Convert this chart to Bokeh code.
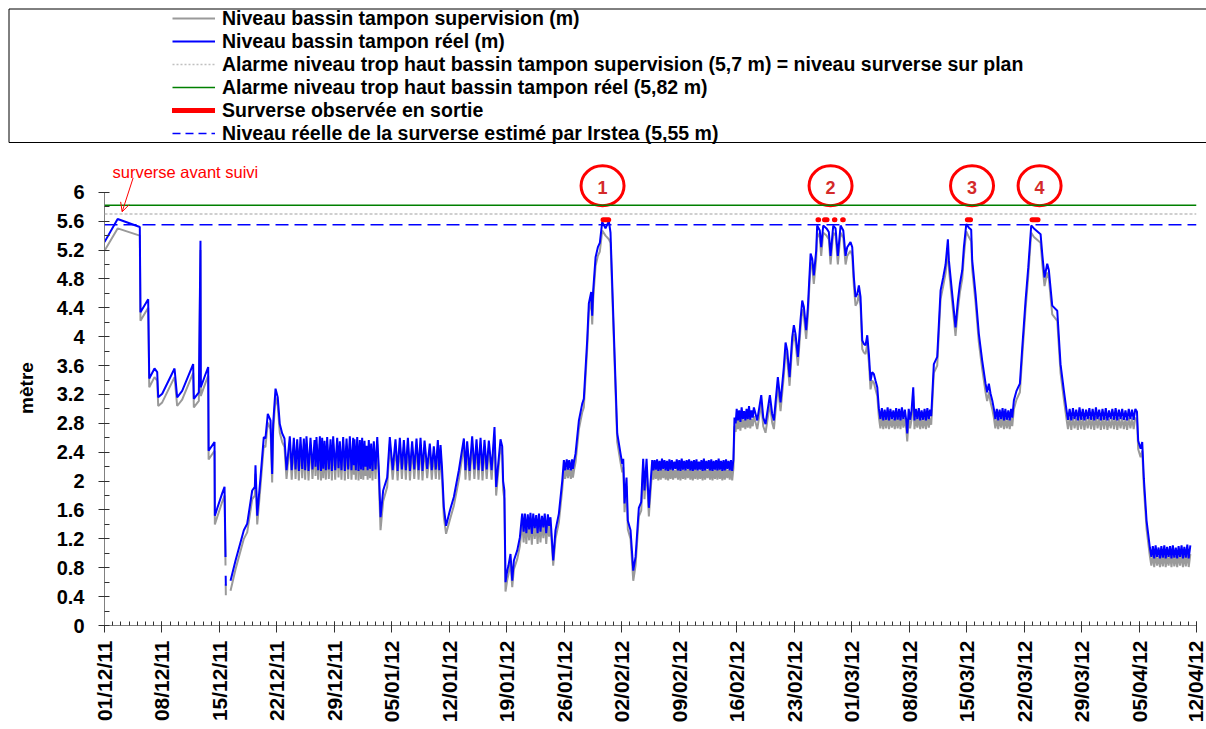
import math
import numpy as np
from bokeh.plotting import figure
from bokeh.layouts import column
from bokeh.models import (Range1d, FixedTicker, Span, Legend, LegendItem, Arrow,
                          OpenHead, Label, ColumnDataSource, BoxAnnotation)
from bokeh.core.properties import value
from bokeh.embed import file_html
from bokeh.resources import INLINE

nan = float("nan")

# ---------------- texts / ticks ----------------
x_labels = ["01/12/11", "08/12/11", "15/12/11", "22/12/11", "29/12/11", "05/01/12",
            "12/01/12", "19/01/12", "26/01/12", "02/02/12", "09/02/12", "16/02/12",
            "23/02/12", "01/03/12", "08/03/12", "15/03/12", "22/03/12", "29/03/12",
            "05/04/12", "12/04/12"]
x_tick_days = [0, 7, 14, 21, 28, 35, 42, 49, 56, 63, 70, 77, 84, 91, 98, 105, 112, 119, 126, 133]
y_ticks = [0, 0.4, 0.8, 1.2, 1.6, 2, 2.4, 2.8, 3.2, 3.6, 4, 4.4, 4.8, 5.2, 5.6, 6]
y_labels = ["0", "0.4", "0.8", "1.2", "1.6", "2", "2.4", "2.8", "3.2", "3.6", "4",
            "4.4", "4.8", "5.2", "5.6", "6"]
legend_labels = [
    "Niveau bassin tampon supervision (m)",
    "Niveau bassin tampon réel (m)",
    "Alarme niveau trop haut bassin tampon supervision (5,7 m) = niveau surverse sur plan",
    "Alarme niveau trop haut bassin tampon réel (5,82 m)",
    "Surverse observée en sortie",
    "Niveau réelle de la surverse estimé par Irstea (5,55 m)",
]
y_axis_title = "mètre"
note_text = "surverse avant suivi"

# ---------------- reference levels (m) ----------------
alarm_supervision = 5.7
alarm_real = 5.82
irstea_level = 5.55

# ---------------- observed overflows (days since 01/12/11) ----------------
surverse_start = [60.72, 86.90, 87.69, 88.90, 89.90, 105.09, 112.97]
surverse_end = [61.41, 86.98, 88.00, 88.96, 89.98, 105.48, 113.70]
surverse_level = 5.62

event_labels = ["1", "2", "3", "4"]
event_days = [60.66, 88.43, 105.66, 113.89]

# ---------------- level series: days since 01/12/11, real level, supervision level -------
# early December
dA = [0.00, 1.60, 4.30, 4.38, 5.32, 5.45, 6.09, 6.42, 6.54, 7.03, 8.53, 8.85, 9.46, 10.80,
      10.88, 11.49, 11.69, 11.73, 12.30, 12.63, 12.68, 13.40, 13.44, 13.72, 14.33, 14.62,
      14.74, 14.75, 14.76, 14.78, 15.30, 15.35, 15.96, 16.97, 17.38, 17.99, 18.31, 18.39,
      18.60, 19.00, 19.40, 19.60, 19.89, 20.22, 20.42, 20.54, 20.83, 21.10, 21.35, 21.64,
      21.92, 22.17]
rA = [5.31, 5.63, 5.52, 4.34, 4.52, 3.42, 3.56, 3.51, 3.16, 3.21, 3.56, 3.16, 3.25, 3.62,
      3.14, 3.23, 5.33, 3.30, 3.48, 3.58, 2.42, 2.54, 1.52, 1.62, 1.83, 1.92, 0.95, nan,
      0.69, 0.55, nan, 0.62, 0.90, 1.32, 1.41, 1.87, 1.92, 2.22, 1.52, 2.05, 2.61, 2.59,
      2.93, 2.84, 2.10, 2.79, 3.28, 3.16, 2.79, 2.66, 2.59, 2.15]
sA = [5.19, 5.50, 5.40, 4.22, 4.40, 3.30, 3.44, 3.39, 3.04, 3.09, 3.44, 3.04, 3.13, 3.50,
      3.02, 3.11, 5.20, 3.18, 3.36, 3.46, 2.30, 2.42, 1.40, 1.50, 1.71, 1.80, 0.83, nan,
      0.57, 0.42, nan, 0.48, 0.78, 1.20, 1.29, 1.75, 1.80, 2.10, 1.40, 1.93, 2.49, 2.47,
      2.81, 2.72, 1.98, 2.67, 3.16, 3.04, 2.67, 2.54, 2.47, 2.03]
# late December plateau
dB = [22.57, 22.80, 23.06, 23.27, 23.47, 23.67, 23.87, 24.08, 24.28, 24.44, 24.60, 24.85,
      25.09, 25.33, 25.58, 25.70, 25.82, 26.02, 26.23, 26.37, 26.51, 26.65, 26.80, 26.96,
      27.12, 27.32, 27.53, 27.69, 27.85, 28.10, 28.34, 28.50, 28.66, 28.86, 29.07, 29.27,
      29.48, 29.68, 29.88, 30.08, 30.29, 30.37, 30.45, 30.61, 30.78, 30.94, 31.10, 31.24,
      31.38, 31.52, 31.67, 31.79, 31.91, 32.05, 32.19, 32.33, 32.48, 32.64, 32.80, 33.01,
      33.22]
rB = [2.62, 2.15, 2.60, 2.16, 2.58, 2.14, 2.61, 2.17, 2.59, 2.15, 2.62, 2.14, 2.60, 2.16,
      2.57, 2.20, 2.61, 2.15, 2.62, 2.14, 2.60, 2.17, 2.56, 2.15, 2.61, 2.16, 2.58, 2.14,
      2.62, 2.15, 2.60, 2.18, 2.55, 2.15, 2.61, 2.14, 2.59, 2.16, 2.62, 2.15, 2.60, 2.22,
      2.58, 2.15, 2.61, 2.14, 2.57, 2.16, 2.60, 2.15, 2.56, 2.20, 2.49, 2.15, 2.57, 2.17,
      2.52, 2.14, 2.55, 2.16, 2.61]
sB = [2.52, 2.02, 2.50, 2.03, 2.48, 2.01, 2.51, 2.04, 2.49, 2.02, 2.52, 2.01, 2.50, 2.03,
      2.47, 2.07, 2.51, 2.02, 2.52, 2.01, 2.50, 2.04, 2.46, 2.02, 2.51, 2.03, 2.48, 2.01,
      2.52, 2.02, 2.50, 2.05, 2.45, 2.02, 2.51, 2.01, 2.49, 2.03, 2.52, 2.02, 2.50, 2.09,
      2.48, 2.02, 2.51, 2.01, 2.47, 2.03, 2.50, 2.02, 2.46, 2.07, 2.39, 2.02, 2.47, 2.04,
      2.42, 2.01, 2.45, 2.03, 2.51]
# early January
dC = [33.40, 33.62, 33.94, 34.43, 34.75, 35.10, 35.44, 35.70, 35.97, 36.22, 36.46, 36.70,
      36.95, 37.20, 37.47, 37.73, 38.00, 38.25, 38.49, 38.73, 38.98, 39.30, 39.62, 39.86,
      40.11, 40.35, 40.60, 40.77, 40.93]
rC = [2.20, 1.50, 1.87, 2.05, 2.61, 2.15, 2.58, 2.14, 2.60, 2.16, 2.57, 2.15, 2.60, 2.14,
      2.55, 2.16, 2.59, 2.15, 2.60, 2.14, 2.56, 2.17, 2.52, 2.15, 2.48, 2.16, 2.57, 2.15,
      2.50]
sC = [2.05, 1.32, 1.72, 1.92, 2.51, 2.02, 2.48, 2.01, 2.50, 2.03, 2.47, 2.02, 2.50, 2.01,
      2.45, 2.03, 2.49, 2.02, 2.50, 2.01, 2.46, 2.04, 2.42, 2.02, 2.38, 2.03, 2.47, 2.02,
      2.40]
# mid January
dD = [41.10, 41.33, 41.60, 42.06, 42.55, 43.16, 43.77, 43.97, 44.17, 44.47, 44.78, 45.05,
      45.31, 45.55, 45.80, 46.04, 46.28, 46.55, 46.81, 47.15, 47.50, 47.70, 48.23, 48.44,
      48.55, 48.70, 48.84, 49.05, 49.20, 49.45, 49.66, 49.86, 50.27, 50.59, 50.87]
rD = [2.20, 1.64, 1.38, 1.59, 1.78, 2.15, 2.59, 2.15, 2.55, 2.14, 2.62, 2.16, 2.58, 2.15,
      2.60, 2.14, 2.57, 2.16, 2.56, 2.15, 2.75, 1.92, 2.58, 2.48, 2.00, 1.87, 0.60, 0.76,
      0.83, 0.99, 0.62, 0.90, 1.04, 1.22, 1.55]
sD = [2.06, 1.50, 1.27, 1.46, 1.66, 2.02, 2.49, 2.02, 2.45, 2.01, 2.52, 2.03, 2.48, 2.02,
      2.50, 2.01, 2.47, 2.03, 2.46, 2.02, 2.63, 1.80, 2.48, 2.36, 1.88, 1.75, 0.47, 0.63,
      0.71, 0.87, 0.53, 0.78, 0.92, 1.10, 1.42]
# late January
dE = [51.05, 51.20, 51.38, 51.55, 51.72, 51.88, 52.05, 52.22, 52.40, 52.58, 52.75, 52.92,
      53.10, 53.28, 53.45, 53.62, 53.80, 54.00, 54.15, 54.32, 54.65, 54.93, 55.34, 55.75,
      55.95, 56.10, 56.30, 56.45, 56.60, 56.80, 56.95, 57.05, 57.20]
rE = [1.30, 1.55, 1.28, 1.54, 1.33, 1.56, 1.27, 1.55, 1.35, 1.53, 1.28, 1.55, 1.30, 1.52,
      1.36, 1.55, 1.28, 1.54, 1.38, 1.50, 0.90, 1.32, 1.55, 2.00, 2.29, 2.15, 2.30, 2.16,
      2.29, 2.15, 2.30, 2.17, 2.28]
sE = [1.15, 1.45, 1.13, 1.44, 1.18, 1.46, 1.12, 1.45, 1.20, 1.43, 1.13, 1.45, 1.15, 1.42,
      1.21, 1.45, 1.13, 1.44, 1.23, 1.40, 0.83, 1.20, 1.43, 1.88, 2.17, 2.03, 2.18, 2.04,
      2.17, 2.03, 2.18, 2.05, 2.16]
# event 1
dF = [57.37, 57.78, 58.18, 58.38, 58.79, 58.99, 59.28, 59.40, 59.52, 59.81, 60.09, 60.33,
      60.62, 61.02, 61.43, 61.63, 62.04, 62.45, 62.85, 63.06, 63.18, 63.34, 63.58, 63.74,
      64.07, 64.40, 64.68, 65.08, 65.37, 65.61, 65.77, 66.02, 66.30, 66.50, 66.71]
rF = [2.38, 2.84, 3.07, 3.14, 3.95, 4.46, 4.62, 4.29, 4.64, 5.10, 5.24, 5.30, 5.59, 5.50,
      5.60, 5.44, 4.04, 2.66, 2.38, 2.24, 2.31, 1.69, 2.05, 1.45, 1.32, 0.76, 0.95, 1.63,
      1.71, 2.31, 1.87, 2.31, 1.63, 1.96, 2.29]
sF = [2.26, 2.72, 2.95, 3.02, 3.83, 4.34, 4.50, 4.17, 4.52, 4.98, 5.12, 5.18, 5.47, 5.40,
      5.35, 5.30, 3.92, 2.54, 2.26, 2.12, 2.19, 1.57, 1.93, 1.33, 1.20, 0.62, 0.83, 1.51,
      1.59, 2.19, 1.75, 2.19, 1.51, 1.84, 2.17]
# early February plateau
dG = [66.85, 67.00, 67.15, 67.30, 67.45, 67.60, 67.75, 67.90, 68.05, 68.20, 68.35, 68.50,
      68.65, 68.80, 68.95, 69.10, 69.25, 69.40, 69.55, 69.70, 69.85, 70.00, 70.15, 70.30,
      70.45, 70.60, 70.75, 70.90, 71.05, 71.20, 71.35, 71.50, 71.65, 71.80, 71.95, 72.10,
      72.25, 72.40, 72.55, 72.70, 72.85, 73.00, 73.15, 73.30, 73.45, 73.60, 73.75, 73.90,
      74.05, 74.20, 74.35, 74.50, 74.65, 74.80, 74.95, 75.10, 75.25, 75.40, 75.55, 75.70,
      75.85, 76.00, 76.15, 76.30, 76.45, 76.60]
rG = [2.15, 2.29, 2.16, 2.30, 2.14, 2.28, 2.15, 2.31, 2.17, 2.29, 2.15, 2.28, 2.14, 2.30,
      2.16, 2.29, 2.15, 2.27, 2.17, 2.30, 2.15, 2.29, 2.14, 2.31, 2.16, 2.28, 2.15, 2.29,
      2.17, 2.30, 2.15, 2.28, 2.14, 2.29, 2.16, 2.30, 2.15, 2.27, 2.16, 2.29, 2.14, 2.31,
      2.15, 2.28, 2.17, 2.29, 2.15, 2.30, 2.14, 2.28, 2.16, 2.29, 2.15, 2.31, 2.16, 2.28,
      2.14, 2.29, 2.15, 2.30, 2.17, 2.28, 2.15, 2.29, 2.14, 2.30]
sG = [2.02, 2.17, 2.03, 2.18, 2.01, 2.16, 2.02, 2.19, 2.04, 2.17, 2.02, 2.16, 2.01, 2.18,
      2.03, 2.17, 2.02, 2.15, 2.04, 2.18, 2.02, 2.17, 2.01, 2.19, 2.03, 2.16, 2.02, 2.17,
      2.04, 2.18, 2.02, 2.16, 2.01, 2.17, 2.03, 2.18, 2.02, 2.15, 2.03, 2.17, 2.01, 2.19,
      2.02, 2.16, 2.04, 2.17, 2.02, 2.18, 2.01, 2.16, 2.03, 2.17, 2.02, 2.19, 2.03, 2.16,
      2.01, 2.17, 2.02, 2.18, 2.04, 2.16, 2.02, 2.17, 2.01, 2.18]
# mid February to early March (event 2)
dH = [76.73, 76.87, 77.00, 77.15, 77.30, 77.45, 77.60, 77.75, 77.90, 78.05, 78.20, 78.35,
      78.50, 78.65, 78.80, 78.95, 79.09, 79.50, 79.99, 80.23, 80.51, 81.04, 81.32, 81.53,
      82.01, 82.34, 82.74, 82.95, 83.15, 83.44, 83.76, 83.96, 84.16, 84.45, 84.77, 84.98,
      85.18, 85.46, 85.67, 86.00, 86.20, 86.39, 86.68, 86.80, 87.12, 87.29, 87.54, 87.94,
      88.22, 88.43, 88.76, 89.04, 89.32, 89.65, 89.98, 90.26, 90.46, 90.86, 91.07, 91.27,
      91.47, 91.68, 91.88, 92.08, 92.29, 92.49, 92.69, 92.90, 93.10, 93.30, 93.50, 93.71,
      93.91, 94.12]
rH = [2.88, 2.80, 3.00, 2.84, 2.98, 2.82, 3.02, 2.86, 2.97, 2.84, 3.00, 2.86, 3.04, 2.85,
      2.98, 2.88, 3.02, 2.84, 3.19, 2.88, 2.79, 3.19, 2.93, 2.84, 3.44, 3.09, 3.58, 3.92,
      3.81, 3.44, 3.99, 4.16, 4.04, 3.72, 4.23, 4.50, 4.41, 4.09, 4.41, 5.15, 5.08, 4.85,
      5.19, 5.54, 5.47, 5.24, 5.54, 5.50, 5.45, 5.12, 5.54, 5.50, 5.12, 5.54, 5.47, 5.12,
      5.24, 5.31, 5.24, 4.82, 4.55, 4.59, 4.71, 4.55, 3.95, 3.90, 3.88, 4.02, 3.76, 3.39,
      3.51, 3.48, 3.39, 3.30]
sH = [2.76, 2.68, 2.88, 2.72, 2.86, 2.70, 2.90, 2.74, 2.85, 2.72, 2.88, 2.74, 2.92, 2.73,
      2.86, 2.76, 2.90, 2.72, 3.07, 2.76, 2.67, 3.07, 2.81, 2.72, 3.32, 2.97, 3.46, 3.80,
      3.69, 3.32, 3.87, 4.04, 3.92, 3.60, 4.11, 4.38, 4.29, 3.97, 4.29, 5.03, 4.96, 4.73,
      5.07, 5.44, 5.37, 5.12, 5.44, 5.40, 5.35, 5.00, 5.44, 5.40, 5.00, 5.44, 5.37, 5.00,
      5.12, 5.19, 5.12, 4.70, 4.43, 4.47, 4.59, 4.43, 3.83, 3.78, 3.76, 3.90, 3.64, 3.27,
      3.39, 3.36, 3.27, 3.18]
# early March plateau
dI = [94.32, 94.50, 94.68, 94.85, 95.02, 95.20, 95.38, 95.55, 95.72, 95.90, 96.08, 96.25,
      96.42, 96.60, 96.78, 96.95, 97.12, 97.30, 97.48, 97.65, 97.77, 97.95, 98.12, 98.30,
      98.50, 98.65, 98.82, 99.00, 99.18, 99.35, 99.52, 99.70, 99.88, 100.05, 100.22,
      100.40, 100.55, 100.69]
rI = [3.00, 2.86, 3.01, 2.84, 2.99, 2.85, 3.02, 2.84, 3.00, 2.86, 2.98, 2.84, 3.01, 2.85,
      3.00, 2.84, 3.02, 2.86, 2.99, 2.84, 2.66, 3.00, 2.85, 2.98, 3.30, 2.84, 3.00, 2.86,
      3.01, 2.84, 2.98, 2.85, 3.00, 2.84, 3.01, 2.86, 2.99, 2.90]
sI = [2.88, 2.73, 2.89, 2.72, 2.87, 2.73, 2.90, 2.72, 2.88, 2.74, 2.86, 2.72, 2.89, 2.73,
      2.88, 2.72, 2.90, 2.74, 2.87, 2.72, 2.55, 2.88, 2.73, 2.86, 3.18, 2.72, 2.88, 2.74,
      2.89, 2.72, 2.86, 2.73, 2.88, 2.72, 2.89, 2.74, 2.87, 2.78]
# event 3
dJ = [101.01, 101.42, 101.83, 102.15, 102.44, 102.72, 102.84, 103.25, 103.65, 103.94,
      104.18, 104.47, 104.67, 104.96, 105.28, 105.56, 105.68, 106.09, 106.49, 106.90,
      107.31, 107.50, 107.71, 107.92, 108.12, 108.32]
rJ = [3.62, 3.72, 4.64, 4.82, 5.00, 5.35, 5.06, 4.59, 4.13, 4.50, 4.73, 4.92, 5.24, 5.56,
      5.51, 5.48, 5.06, 4.59, 4.04, 3.67, 3.35, 3.23, 3.35, 3.21, 3.12, 3.00]
sJ = [3.50, 3.60, 4.52, 4.70, 4.88, 5.22, 4.94, 4.47, 4.01, 4.38, 4.61, 4.80, 5.12, 5.46,
      5.38, 5.32, 4.94, 4.47, 3.92, 3.55, 3.23, 3.11, 3.23, 3.09, 3.00, 2.88]
# mid March plateau and event 4
dK = [108.50, 108.68, 108.85, 109.02, 109.20, 109.38, 109.55, 109.72, 109.90, 110.08,
      110.25, 110.42, 110.56, 110.76, 111.08, 111.49, 111.78, 112.18, 112.51, 112.87,
      113.20, 114.01, 114.21, 114.49, 114.82, 115.02, 115.43, 116.04, 116.44, 116.85,
      117.17]
rK = [2.86, 3.00, 2.84, 2.99, 2.86, 3.01, 2.84, 3.00, 2.85, 2.98, 2.84, 3.00, 2.88, 3.12,
      3.25, 3.35, 3.85, 4.50, 4.96, 5.54, 5.50, 5.42, 5.15, 4.82, 5.01, 4.92, 4.43, 4.36,
      3.62, 3.25, 2.98]
sK = [2.73, 2.88, 2.72, 2.87, 2.74, 2.89, 2.72, 2.88, 2.73, 2.86, 2.72, 2.88, 2.76, 3.00,
      3.13, 3.23, 3.73, 4.38, 4.84, 5.44, 5.38, 5.30, 5.02, 4.70, 4.89, 4.80, 4.31, 4.22,
      3.50, 3.13, 2.86]
# end of March plateau, drop
dL = [117.35, 117.55, 117.75, 117.95, 118.15, 118.35, 118.55, 118.75, 118.95, 119.15,
      119.35, 119.55, 119.75, 119.95, 120.15, 120.35, 120.55, 120.75, 120.95, 121.15,
      121.35, 121.55, 121.75, 121.95, 122.15, 122.35, 122.55, 122.75, 122.95, 123.15,
      123.35, 123.55, 123.75, 123.95, 124.15, 124.35, 124.55, 124.75, 124.95, 125.15,
      125.35, 125.55, 125.75, 125.90, 126.19, 126.39, 126.59, 126.92, 127.32]
rL = [2.85, 3.00, 2.84, 3.01, 2.86, 2.99, 2.84, 3.02, 2.85, 3.00, 2.84, 2.99, 2.86, 3.01,
      2.85, 3.00, 2.84, 3.02, 2.86, 2.99, 2.84, 3.00, 2.85, 3.01, 2.84, 2.98, 2.86, 3.00,
      2.85, 3.01, 2.84, 2.99, 2.86, 3.00, 2.85, 2.98, 2.84, 3.00, 2.86, 2.99, 2.85, 3.00,
      2.96, 2.56, 2.45, 2.54, 2.03, 1.45, 1.08]
sL = [2.72, 2.88, 2.71, 2.89, 2.73, 2.87, 2.71, 2.90, 2.72, 2.88, 2.71, 2.87, 2.73, 2.89,
      2.72, 2.88, 2.71, 2.90, 2.73, 2.87, 2.71, 2.88, 2.72, 2.89, 2.71, 2.86, 2.73, 2.88,
      2.72, 2.89, 2.71, 2.87, 2.73, 2.88, 2.72, 2.86, 2.71, 2.88, 2.73, 2.87, 2.72, 2.88,
      2.84, 2.44, 2.33, 2.42, 1.91, 1.33, 0.96]
# April
dM = [127.50, 127.68, 127.85, 128.02, 128.20, 128.38, 128.55, 128.72, 128.90, 129.08,
      129.25, 129.42, 129.60, 129.78, 129.95, 130.12, 130.30, 130.48, 130.65, 130.82,
      131.00, 131.18, 131.35, 131.52, 131.70, 131.88, 132.05, 132.25]
rM = [0.95, 1.10, 0.93, 1.11, 0.95, 1.08, 0.93, 1.10, 0.94, 1.11, 0.93, 1.09, 0.95, 1.10,
      0.93, 1.11, 0.94, 1.08, 0.93, 1.10, 0.95, 1.11, 0.93, 1.09, 0.94, 1.12, 0.93, 1.11]
sM = [0.83, 0.98, 0.81, 0.99, 0.83, 0.96, 0.81, 0.98, 0.82, 0.99, 0.81, 0.97, 0.83, 0.98,
      0.81, 0.99, 0.82, 0.96, 0.81, 0.98, 0.83, 0.99, 0.81, 0.97, 0.82, 1.00, 0.81, 0.99]

day = dA + dB + dC + dD + dE + dF + dG + dH + dI + dJ + dK + dL + dM
real = rA + rB + rC + rD + rE + rF + rG + rH + rI + rJ + rK + rL + rM
supervision = sA + sB + sC + sD + sE + sF + sG + sH + sI + sJ + sK + sL + sM
assert len(day) == len(real) == len(supervision)

# ---------------- styles ----------------
FONT = "Liberation Sans"
GREY = "#9a9a9a"
BLUE = "#0000ff"
GREEN = "#008000"
LIGHTGREY = "#c0c0c0"
RED = "#ff0000"
PAGE_W = 1206

# ---------------- legend panel ----------------
LEG_H = 144
leg = figure(width=PAGE_W, height=LEG_H, x_range=Range1d(0, PAGE_W), y_range=Range1d(0, LEG_H),
             x_axis_type=None, y_axis_type=None, output_backend="svg",
             toolbar_location=None, min_border=0)
leg.frame_align = False
leg.outline_line_color = None
leg.background_fill_color = "white"
leg.border_fill_color = "white"
# legend frame (open on the right, like the source)
leg.add_layout(BoxAnnotation(left=8.5, right=PAGE_W + 20, bottom=2, top=LEG_H - 8.5,
                             fill_color=None, fill_alpha=0, line_color="black",
                             line_width=1, line_alpha=1))

proxy = ColumnDataSource(dict(x=[nan], y=[nan]))
g1 = leg.line("x", "y", source=proxy, line_color=GREY, line_width=2)
g2 = leg.line("x", "y", source=proxy, line_color=BLUE, line_width=2)
g3 = leg.line("x", "y", source=proxy, line_color=LIGHTGREY, line_width=1.5, line_dash="2 2")
g4 = leg.line("x", "y", source=proxy, line_color=GREEN, line_width=1.5)
g5 = leg.line("x", "y", source=proxy, line_color=RED, line_width=5, line_cap="round")
g6 = leg.line("x", "y", source=proxy, line_color=BLUE, line_width=1.5, line_dash="8 5")
items = [LegendItem(label=lab, renderers=[g]) for lab, g in
         zip(legend_labels, [g1, g2, g3, g4, g5, g6])]
legend = Legend(items=items, location=(172, -0.5), orientation="vertical",
                border_line_color=None, background_fill_alpha=0,
                padding=0, margin=0, spacing=0,
                glyph_width=43, glyph_height=22, label_height=22, label_standoff=7,
                label_text_font=FONT, label_text_font_style="bold",
                label_text_font_size="19.5px", label_text_color="black")
leg.add_layout(legend)

# ---------------- main chart ----------------
p = figure(width=PAGE_W, height=585, x_range=Range1d(0, 133), y_range=Range1d(0, 6.579),
           output_backend="svg", toolbar_location=None,
           min_border_left=104, min_border_right=10, min_border_top=6, min_border_bottom=104)
p.frame_align = False
p.outline_line_color = None
p.xgrid.visible = False
p.ygrid.visible = False
p.background_fill_color = "white"
p.border_fill_color = "white"

src = ColumnDataSource(dict(day=np.array(day), real=np.array(real),
                            supervision=np.array(supervision)))
p.line("day", "supervision", source=src, line_color=GREY, line_width=2)
p.line("day", "real", source=src, line_color=BLUE, line_width=2)

p.add_layout(Span(location=alarm_real, dimension="width", line_color=GREEN, line_width=1.5))
p.add_layout(Span(location=alarm_supervision, dimension="width", line_color=LIGHTGREY,
                  line_width=1.5, line_dash="3 2"))
p.add_layout(Span(location=irstea_level, dimension="width", line_color=BLUE,
                  line_width=1.5, line_dash="13 6"))

p.segment(x0=surverse_start, y0=[surverse_level] * len(surverse_start),
          x1=surverse_end, y1=[surverse_level] * len(surverse_end),
          line_color=RED, line_width=5, line_cap="round")

mark_y = 6.09
p.ellipse(x=event_days, y=[mark_y] * len(event_days), width=43, height=40,
          width_units="screen", height_units="screen",
          fill_color=None, line_color=RED, line_width=3)
p.text(x=event_days, y=[mark_y] * len(event_days), text=event_labels,
       text_align="center", text_baseline="middle", y_offset=2,
       text_font=value(FONT), text_font_style="bold", text_font_size="18px",
       text_color="#d42a2a")

p.add_layout(Label(x=0.97, y=6.28, text=note_text, text_color=RED, text_font=FONT,
                   text_font_size="16.5px", text_baseline="middle", text_align="left"))
p.add_layout(Arrow(end=OpenHead(size=9, line_color=RED, line_width=1),
                   x_start=3.49, y_start=6.20, x_end=2.15, y_end=5.73,
                   line_color=RED, line_width=1))

# axes
AXIS_GREY = "#808080"
TICK = "#303030"
yax = p.yaxis[0]
yax.ticker = FixedTicker(ticks=y_ticks,
                         minor_ticks=[round(0.2 + 0.4 * i, 1) for i in range(15)])
yax.major_label_overrides = {t: lab for t, lab in zip(y_ticks, y_labels)}
yax.bounds = (0, 6)
yax.axis_line_color = AXIS_GREY
yax.major_tick_line_color = TICK
yax.minor_tick_line_color = TICK
yax.major_tick_in = 5
yax.major_tick_out = 6
yax.minor_tick_in = 5
yax.minor_tick_out = 0
yax.major_label_standoff = 14
yax.major_label_text_font = FONT
yax.major_label_text_font_style = "bold"
yax.major_label_text_font_size = "20px"
yax.major_label_text_color = "black"
yax.axis_label = y_axis_title
yax.axis_label_text_font = FONT
yax.axis_label_text_font_style = "bold"
yax.axis_label_text_font_size = "19px"
yax.axis_label_text_color = "black"
yax.axis_label_standoff = 17

xax = p.xaxis[0]
xax.ticker = FixedTicker(ticks=x_tick_days, minor_ticks=list(range(0, 134)))
xax.major_label_overrides = {d: lab for d, lab in zip(x_tick_days, x_labels)}
xax.major_label_orientation = math.pi / 2
xax.axis_line_color = AXIS_GREY
xax.major_tick_line_color = TICK
xax.minor_tick_line_color = TICK
xax.major_tick_in = 4
xax.major_tick_out = 7
xax.minor_tick_in = 4
xax.minor_tick_out = 0
xax.major_label_standoff = 8
xax.major_label_text_font = FONT
xax.major_label_text_font_style = "bold"
xax.major_label_text_font_size = "21px"
xax.major_label_text_color = "black"

layout = column(leg, p, spacing=0)
open("out.html", "w").write(file_html(layout, INLINE))
